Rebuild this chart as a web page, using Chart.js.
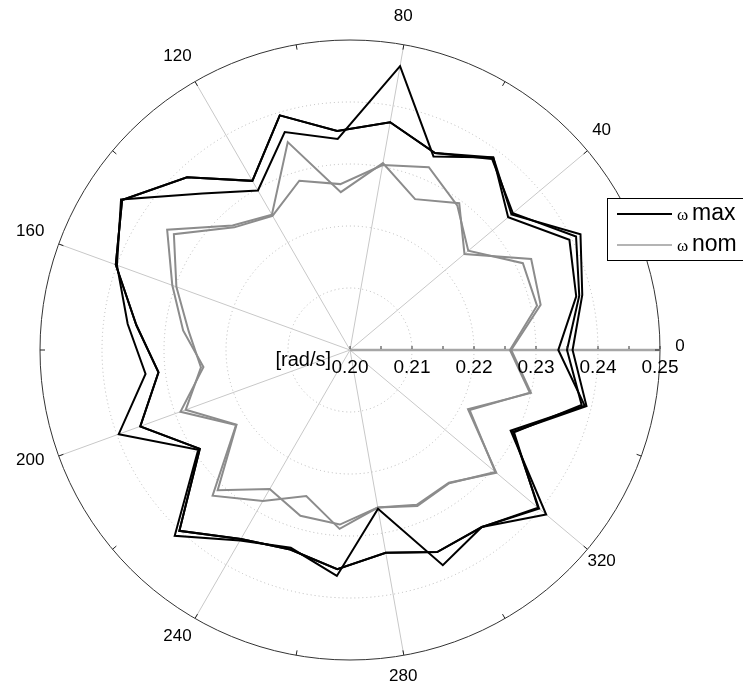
<!DOCTYPE html>
<html>
<head>
<meta charset="utf-8">
<script src="https://cdn.jsdelivr.net/npm/chart.js@4.4.0/dist/chart.umd.min.js"></script>
<style>
  html, body { margin: 0; padding: 0; background: #fff; }
  canvas { display: block; }
</style>
</head>
<body>
<canvas id="polarChart" width="743" height="688"></canvas>
<script>
// sample angles (deg, counter-clockwise from the 0 axis)
var angles = [0, 13.3, 26.7, 40, 53.3, 66.7, 80, 93.3, 106.7, 120, 133.3, 146.7, 160, 173.3,
              186.7, 200, 213.3, 226.7, 240, 253.3, 266.7, 280, 293.3, 306.7, 320, 333.3, 346.7];
var angleTicks = [0, 40, 80, 120, 160, 200, 240, 280, 320];
var radialTicks = ['0.20', '0.21', '0.22', '0.23', '0.24', '0.25'];

// omega max runs [rad/s]
var maxA = [0.2336, 0.2375, 0.2396, 0.2333, 0.2387, 0.2340, 0.2465, 0.2341, 0.2367, 0.2297, 0.2347, 0.2442, 0.2400, 0.2361,
            0.2332, 0.2397, 0.2293, 0.2412, 0.2355, 0.2333, 0.2365, 0.2260, 0.2378, 0.2356, 0.2413, 0.2290, 0.2389];
var maxB = [0.2350, 0.2380, 0.2408, 0.2343, 0.2384, 0.2346, 0.2373, 0.2354, 0.2395, 0.2315, 0.2383, 0.2440, 0.2402, 0.2347,
            0.2311, 0.2360, 0.2290, 0.2401, 0.2352, 0.2336, 0.2354, 0.2332, 0.2355, 0.2356, 0.2396, 0.2296, 0.2384];
var maxC = [0.2359, 0.2385, 0.2416, 0.2340, 0.2387, 0.2346, 0.2373, 0.2354, 0.2395, 0.2315, 0.2383, 0.2440, 0.2402, 0.2347,
            0.2311, 0.2360, 0.2290, 0.2401, 0.2352, 0.2336, 0.2354, 0.2332, 0.2355, 0.2356, 0.2398, 0.2294, 0.2392];
// omega nom runs [rad/s]
var nomA = [0.2260, 0.2316, 0.2327, 0.2241, 0.2295, 0.2265, 0.2306, 0.2255, 0.2350, 0.2252, 0.2276, 0.2353, 0.2305, 0.2271,
            0.2238, 0.2291, 0.2220, 0.2323, 0.2281, 0.2246, 0.2289, 0.2258, 0.2272, 0.2267, 0.2308, 0.2213, 0.2300];
var nomB = [0.2258, 0.2310, 0.2312, 0.2249, 0.2290, 0.2321, 0.2303, 0.2268, 0.2285, 0.2250, 0.2272, 0.2340, 0.2298, 0.2262,
            0.2242, 0.2282, 0.2219, 0.2311, 0.2259, 0.2279, 0.2282, 0.2258, 0.2274, 0.2268, 0.2306, 0.2216, 0.2298];

var maxColor = '#000000';
var nomColor = '#8c8c8c';

// radar goes clockwise, the plot goes counter-clockwise -> walk the arrays backwards
var order = angles.map(function(a, i) { return (angles.length - i) % angles.length; });
function reorder(arr) { return order.map(function(k) { return arr[k]; }); }

function isSpoke(index) { return angleTicks.indexOf(angles[order[index]]) >= 0; }

var polarDecor = {
  id: 'polarDecor',
  afterDraw: function(chart) {
    var r = chart.scales.r;
    var ctx = chart.ctx;
    var cx = r.xCenter, cy = r.yCenter;
    var rMax = r.getDistanceFromCenterForValue(r.max);
    ctx.save();

    // small ticks on the outer ring, every 20 deg
    ctx.strokeStyle = '#222';
    ctx.lineWidth = 1;
    for (var a = 0; a < 360; a += 20) {
      var t = a * Math.PI / 180;
      ctx.beginPath();
      ctx.moveTo(cx + Math.cos(t) * rMax, cy - Math.sin(t) * rMax);
      ctx.lineTo(cx + Math.cos(t) * (rMax - 5), cy - Math.sin(t) * (rMax - 5));
      ctx.stroke();
    }

    // ticks along the 0 axis
    ctx.strokeStyle = '#333';
    for (var v = 0.2; v <= 0.2501; v += 0.005) {
      var p = r.getPointPositionForValue(0, v);
      ctx.beginPath();
      ctx.moveTo(p.x, p.y - 1);
      ctx.lineTo(p.x, p.y - 4);
      ctx.stroke();
    }

    // radial tick labels
    ctx.fillStyle = '#000';
    ctx.font = '19px "Liberation Sans", Arial, sans-serif';
    ctx.textAlign = 'center';
    ctx.textBaseline = 'alphabetic';
    radialTicks.forEach(function(lbl) {
      var p = r.getPointPositionForValue(0, parseFloat(lbl));
      ctx.fillText(lbl, p.x, cy + 23);
    });
    ctx.font = '20px "Liberation Sans", Arial, sans-serif';
    ctx.textAlign = 'right';
    ctx.fillText('[rad/s]', cx - 19, cy + 16);

    // angle labels (a little up-left of the ring, as in the original)
    ctx.font = '17px "Liberation Sans", Arial, sans-serif';
    ctx.textAlign = 'center';
    ctx.textBaseline = 'middle';
    angleTicks.forEach(function(a) {
      var idx = order.indexOf(angles.indexOf(a));
      var p = r.getPointPosition(idx, rMax + 25);
      ctx.fillText(String(a), p.x - 5, p.y - 4);
    });

    // legend box (sits over the plot, like the original)
    var lx = 607, ly = 198, lw = 145, lh = 62;
    ctx.fillStyle = '#fff';
    ctx.fillRect(lx, ly, lw, lh);
    ctx.strokeStyle = '#000';
    ctx.lineWidth = 1;
    ctx.strokeRect(lx + 0.5, ly + 0.5, lw, lh);
    var rows = [['max', maxColor, ly + 16], ['nom', '#b4b4b4', ly + 47]];
    rows.forEach(function(row) {
      ctx.strokeStyle = row[1];
      ctx.lineWidth = 2;
      ctx.beginPath();
      ctx.moveTo(lx + 10, row[2]);
      ctx.lineTo(lx + 65, row[2]);
      ctx.stroke();
      ctx.fillStyle = '#000';
      ctx.textAlign = 'left';
      ctx.textBaseline = 'alphabetic';
      ctx.font = '17px "Liberation Serif", serif';
      ctx.fillText('\u03c9', lx + 70, row[2] + 6);
      ctx.font = '23px "Liberation Sans", Arial, sans-serif';
      ctx.fillText(row[0], lx + 85, row[2] + 6);
    });
    ctx.restore();
  }
};

var ctx = document.getElementById('polarChart').getContext('2d');
var chart = new Chart(ctx, {
  type: 'radar',
  data: {
    labels: reorder(angles).map(String),
    datasets: [
      { label: 'ω max', data: reorder(maxA), borderColor: maxColor, borderWidth: 2 },
      { label: 'ω max', data: reorder(maxB), borderColor: maxColor, borderWidth: 2 },
      { label: 'ω max', data: reorder(maxC), borderColor: maxColor, borderWidth: 2 },
      { label: 'ω nom', data: reorder(nomA), borderColor: nomColor, borderWidth: 2 },
      { label: 'ω nom', data: reorder(nomB), borderColor: nomColor, borderWidth: 2 }
    ]
  },
  options: {
    responsive: false,
    animation: false,
    layout: { padding: { left: 40, top: 40, right: 83, bottom: 28 } },
    elements: {
      line: { tension: 0, fill: false },
      point: { radius: 0, hitRadius: 0 }
    },
    plugins: {
      legend: { display: false },
      tooltip: { enabled: false }
    },
    scales: {
      r: {
        min: 0.2,
        max: 0.25,
        startAngle: 90,
        ticks: { display: false, stepSize: 0.01 },
        pointLabels: { display: false },
        grid: {
          circular: true,
          color: function(c) { return c.index === radialTicks.length - 1 ? '#333' : '#b8b8b8'; },
          lineWidth: 1
        },
        border: {
          dash: function(c) { return c.index === radialTicks.length - 1 ? [] : [1, 3]; }
        },
        angleLines: {
          color: function(c) {
            if (!isSpoke(c.index)) return 'rgba(0,0,0,0)';
            return c.index === 0 ? '#a6a6a6' : '#c8c8c8';
          },
          lineWidth: function(c) {
            if (!isSpoke(c.index)) return 0;
            return c.index === 0 ? 2.5 : 1;
          }
        }
      }
    }
  },
  plugins: [polarDecor]
});
</script>
</body>
</html>
